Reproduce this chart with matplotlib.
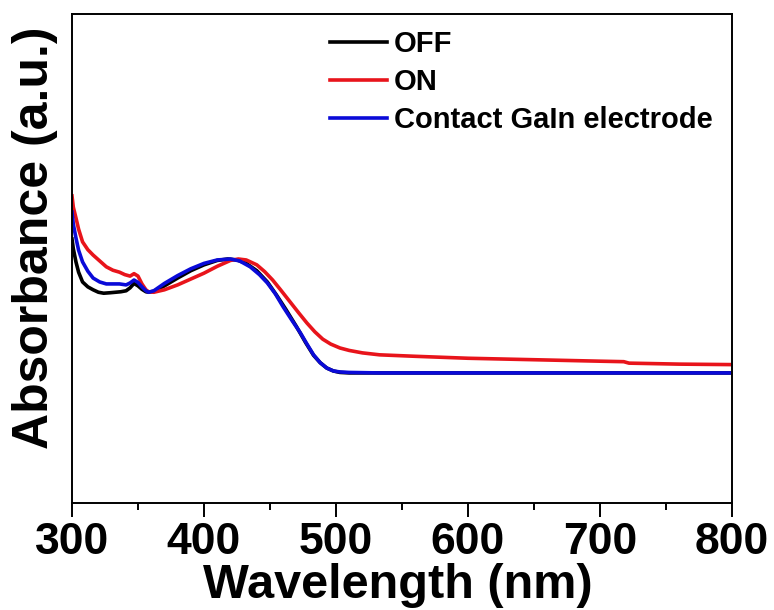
import matplotlib
matplotlib.use('Agg')
import matplotlib.pyplot as plt
from matplotlib.ticker import MultipleLocator

plt.rcParams['font.family'] = ['Liberation Sans', 'DejaVu Sans']
plt.rcParams['font.weight'] = 'bold'

# OFF
wl_off = [300, 301, 303, 305, 308, 312, 316, 320, 324, 329, 333, 337, 341, 344, 347, 350, 353, 356, 358,
          362, 370, 380, 390, 400, 410, 418, 425, 432, 440, 448, 455, 462, 470, 477, 483, 488, 493, 498, 503,
          510, 520, 600, 700, 800]
abs_off = [0.540, 0.520, 0.493, 0.472, 0.452, 0.442, 0.436, 0.431, 0.429, 0.430, 0.431, 0.432, 0.434, 0.440,
           0.449, 0.444, 0.437, 0.432, 0.431, 0.433, 0.444, 0.460, 0.475, 0.487, 0.496, 0.499, 0.497, 0.490,
           0.475, 0.452, 0.425, 0.396, 0.361, 0.328, 0.302, 0.287, 0.276, 0.270, 0.267, 0.266, 0.266, 0.266,
           0.266, 0.266]

# ON
wl_on = [300, 301, 303, 305, 308, 312, 316, 321, 326, 331, 336, 340, 344, 347, 350, 353, 356, 358,
         362, 370, 380, 390, 400, 410, 420, 426, 432, 440, 446, 452, 458, 465, 472, 478, 484, 490, 496,
         503, 510, 520, 533, 560, 600, 650, 700, 718, 722, 760, 800]
abs_on = [0.628, 0.605, 0.583, 0.560, 0.534, 0.518, 0.507, 0.495, 0.483, 0.476, 0.472, 0.467, 0.464, 0.469,
          0.464, 0.448, 0.436, 0.432, 0.431, 0.436, 0.446, 0.458, 0.470, 0.484, 0.496, 0.499, 0.497, 0.487,
          0.473, 0.456, 0.436, 0.412, 0.388, 0.368, 0.350, 0.335, 0.325, 0.317, 0.312, 0.307, 0.303, 0.300,
          0.296, 0.293, 0.290, 0.289, 0.286, 0.284, 0.283]

# Contact GaIn electrode
wl_con = [300, 301, 303, 305, 308, 312, 316, 321, 326, 331, 336, 341, 344, 347, 350, 353, 356, 358,
          362, 370, 380, 390, 400, 410, 420, 427, 435, 442, 448, 454, 460, 467, 473, 478, 483, 488, 493,
          498, 503, 510, 533, 600, 700, 800]
abs_con = [0.595, 0.570, 0.542, 0.517, 0.493, 0.474, 0.460, 0.452, 0.448, 0.448, 0.448, 0.446, 0.450, 0.456,
           0.451, 0.442, 0.434, 0.431, 0.434, 0.449, 0.465, 0.479, 0.490, 0.497, 0.499, 0.495, 0.483, 0.467,
           0.450, 0.428, 0.401, 0.372, 0.348, 0.325, 0.303, 0.287, 0.276, 0.270, 0.268, 0.267, 0.266, 0.266,
           0.266, 0.266]

fig = plt.figure(figsize=(7.74, 6.1), dpi=100)
ax = fig.add_axes([72 / 774, 1 - 503 / 610, 660 / 774, 489 / 610])

ax.plot(wl_off, abs_off, color='black', lw=2.6, label='OFF')
ax.plot(wl_on, abs_on, color='#e8141b', lw=2.6, label='ON')
ax.plot(wl_con, abs_con, color='#0a0ad8', lw=2.6, label='Contact GaIn electrode')

ax.set_xlim(300, 800)
ax.set_ylim(0, 1)
ax.xaxis.set_major_locator(MultipleLocator(100))
ax.xaxis.set_minor_locator(MultipleLocator(50))
ax.tick_params(axis='x', which='major', direction='out', length=10, width=1.4, labelsize=32, pad=4)
ax.tick_params(axis='x', which='minor', direction='out', length=5, width=1.4)
ax.set_yticks([])
for s in ax.spines.values():
    s.set_linewidth(1.4)

ax.set_xlabel('Wavelength (nm)', fontsize=35, fontweight='bold')
ax.xaxis.set_label_coords(0.493, -0.123)
ax.set_ylabel('Absorbance (a.u.)', fontsize=36, fontweight='bold')
ax.yaxis.set_label_coords(-0.021, 0.543)

ax.legend(loc='upper left', bbox_to_anchor=(330 / 774, 1 - 30 / 610), bbox_transform=fig.transFigure,
          frameon=False, fontsize=21, handlelength=1.95, handletextpad=0.25, labelspacing=0.34,
          borderaxespad=0, borderpad=0)

fig.savefig('out.png', dpi=100)
